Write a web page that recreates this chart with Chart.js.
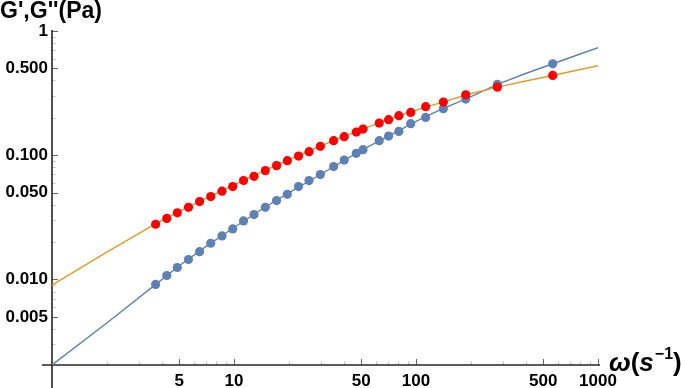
<!DOCTYPE html>
<html>
<head>
<meta charset="utf-8">
<script src="https://cdn.jsdelivr.net/npm/chart.js@4.4.0/dist/chart.umd.min.js"></script>
<style>
  html, body { margin: 0; padding: 0; background: #fff; }
</style>
</head>
<body>
<canvas id="moduli" width="685" height="388"></canvas>
<script>
// frequencies of the sweep (s^-1), same for both moduli
const omega = [3.71, 4.27, 4.88, 5.62, 6.47, 7.45, 8.59, 9.84, 11.28, 12.88, 14.86, 17.14, 19.63, 22.62,
  25.83, 29.80, 35.26, 40.32, 46.99, 51.15, 62.8, 70.7, 80.5, 93.5, 113.0, 141.3, 187.6, 279.8, 563.7];
// storage modulus G' (Pa)
const gStorage = [0.00912, 0.01077, 0.01249, 0.01448, 0.01673, 0.01958, 0.02241, 0.02551, 0.02958, 0.0333,
  0.0381, 0.0432, 0.0485, 0.0560, 0.0625, 0.0699, 0.0810, 0.0915, 0.1036, 0.1109, 0.1310, 0.1427, 0.1556,
  0.1795, 0.2017, 0.2369, 0.2830, 0.3715, 0.5447];
// loss modulus G'' (Pa)
const gLoss = [0.02783, 0.0310, 0.0344, 0.0381, 0.0424, 0.0465, 0.0514, 0.0560, 0.0626, 0.0677, 0.0752,
  0.0825, 0.0905, 0.0985, 0.1069, 0.1179, 0.1310, 0.1411, 0.1536, 0.1624, 0.1815, 0.1932, 0.2081, 0.2213,
  0.2459, 0.2677, 0.3069, 0.3534, 0.4387];

// model curves
const fitOmega = [1, 2, 3.7, 5, 7, 10, 15, 20, 30, 50, 70, 100, 140, 190, 280, 400, 565, 750, 1000];
const gStorageFit = [0.00205, 0.00446, 0.0091, 0.0129, 0.0184, 0.0262, 0.0387, 0.0498, 0.0703, 0.1094,
  0.1416, 0.187, 0.2369, 0.285, 0.3715, 0.455, 0.5447, 0.632, 0.733];
const gLossFit = [0.0090, 0.0166, 0.0280, 0.0354, 0.0450, 0.0575, 0.0762, 0.0919, 0.1192, 0.1606, 0.1932,
  0.2306, 0.2677, 0.3069, 0.3534, 0.396, 0.4387, 0.4805, 0.525];

const xTickMajor = [5, 10, 50, 100, 500, 1000];
const xTickMinor = [2, 3, 4, 6, 7, 8, 9, 20, 30, 40, 60, 70, 80, 90, 200, 300, 400, 600, 700, 800, 900];
const yTickMajor = [0.005, 0.01, 0.05, 0.1, 0.5, 1];
const yTickMinor = [0.003, 0.004, 0.006, 0.007, 0.008, 0.009, 0.02, 0.03, 0.04, 0.06, 0.07, 0.08, 0.09,
  0.2, 0.3, 0.4, 0.6, 0.7, 0.8, 0.9];

const BLUE = '#5E81B5';
const ORANGE = '#E19C24';
const RED = '#FF0000';
const FONT = 'Liberation Sans, Arial, sans-serif';

function pairs(xs, ys) {
  return xs.map((v, i) => ({ x: v, y: ys[i] }));
}

// mathematica style axes: ticks point inward, axes run past the corner
const axesPlugin = {
  id: 'mmaAxes',
  beforeDatasetsDraw(chart) {
    const ctx = chart.ctx;
    const a = chart.chartArea;
    const x = chart.scales.x, y = chart.scales.y;
    ctx.save();
    ctx.lineWidth = 1;
    x.ticks.forEach(t => {
      if (t.value <= x.min) return;
      const major = xTickMajor.includes(t.value);
      const px = Math.round(x.getPixelForValue(t.value)) + 0.5;
      ctx.strokeStyle = major ? '#666' : '#c4c4c4';
      ctx.beginPath();
      ctx.moveTo(px, a.bottom);
      ctx.lineTo(px, a.bottom - (major ? 6 : 3.5));
      ctx.stroke();
    });
    y.ticks.forEach(t => {
      if (t.value <= y.min) return;
      const major = yTickMajor.includes(t.value);
      const py = Math.round(y.getPixelForValue(t.value)) + 0.5;
      ctx.strokeStyle = major ? '#666' : '#c4c4c4';
      ctx.beginPath();
      ctx.moveTo(a.left, py);
      ctx.lineTo(a.left + (major ? 6 : 3.5), py);
      ctx.stroke();
    });
    ctx.strokeStyle = '#262626';
    ctx.lineWidth = 1.6;
    ctx.beginPath();
    ctx.moveTo(a.left - 10, a.bottom);
    ctx.lineTo(a.right + 2, a.bottom);
    ctx.moveTo(a.left, a.top - 1);
    ctx.lineTo(a.left, chart.height);
    ctx.stroke();
    ctx.restore();
  },
  afterDraw(chart) {
    const ctx = chart.ctx;
    const a = chart.chartArea;
    ctx.save();
    ctx.fillStyle = '#000';
    ctx.textBaseline = 'alphabetic';
    ctx.textAlign = 'left';
    ctx.font = 'bold 23px ' + FONT;
    ctx.fillText("G',G''(Pa)", 0, 18);

    // omega label at the end of the x axis
    let px = a.right + 11;
    const base = a.bottom + 6;
    const parts = [
      ['ω', 'italic bold 26px ', 0],
      ['(', 'bold 26px ', 0],
      ['s', 'italic bold 26px ', 0],
      ['−1', 'bold 16px ', -12],
      [')', 'bold 26px ', 0]
    ];
    parts.forEach(p => {
      ctx.font = p[1] + FONT;
      ctx.fillText(p[0], px, base + p[2]);
      px += ctx.measureText(p[0]).width + (p[0] === 's' ? 1 : 0);
    });
    ctx.restore();
  }
};

new Chart(document.getElementById('moduli'), {
  type: 'scatter',
  data: {
    datasets: [
      {
        label: "G''",
        data: pairs(omega, gLoss),
        backgroundColor: RED,
        borderColor: RED,
        pointRadius: 4.6,
        pointBorderWidth: 0,
        showLine: false,
        order: 0
      },
      {
        label: "G'",
        data: pairs(omega, gStorage),
        backgroundColor: BLUE,
        borderColor: BLUE,
        pointRadius: 4.6,
        pointBorderWidth: 0,
        showLine: false,
        order: 1
      },
      {
        label: "G'' fit",
        data: pairs(fitOmega, gLossFit),
        borderColor: ORANGE,
        borderWidth: 1.4,
        pointRadius: 0,
        showLine: true,
        order: 2
      },
      {
        label: "G' fit",
        data: pairs(fitOmega, gStorageFit),
        borderColor: BLUE,
        borderWidth: 1.4,
        pointRadius: 0,
        showLine: true,
        order: 3
      }
    ]
  },
  options: {
    responsive: false,
    animation: false,
    devicePixelRatio: 1,
    layout: { padding: { left: 0, right: 87, top: 31, bottom: 0 } },
    plugins: {
      legend: { display: false },
      tooltip: { enabled: false }
    },
    scales: {
      x: {
        type: 'logarithmic',
        min: 1,
        max: 1000,
        grid: { display: false, drawTicks: false },
        border: { display: false },
        afterBuildTicks(s) {
          s.ticks = [1, ...xTickMajor, ...xTickMinor].sort((p, q) => p - q).map(v => ({ value: v }));
        },
        afterFit(s) { s.height = 23; },
        ticks: {
          autoSkip: false,
          maxRotation: 0,
          padding: 6,
          color: '#000',
          font: { family: FONT, weight: 'bold', size: 17 },
          callback: v => xTickMajor.includes(v) ? String(v) : ''
        }
      },
      y: {
        type: 'logarithmic',
        min: 0.00205,
        max: 1,
        grid: { display: false, drawTicks: false },
        border: { display: false },
        afterBuildTicks(s) {
          s.ticks = [...yTickMajor, ...yTickMinor].sort((p, q) => p - q).map(v => ({ value: v }));
        },
        afterFit(s) { s.width = 52; },
        ticks: {
          autoSkip: false,
          padding: 4,
          color: '#000',
          font: { family: FONT, weight: 'bold', size: 17 },
          callback: v => !yTickMajor.includes(v) ? '' : (v === 1 ? '1' : v.toFixed(3))
        }
      }
    }
  },
  plugins: [axesPlugin]
});
</script>
</body>
</html>
